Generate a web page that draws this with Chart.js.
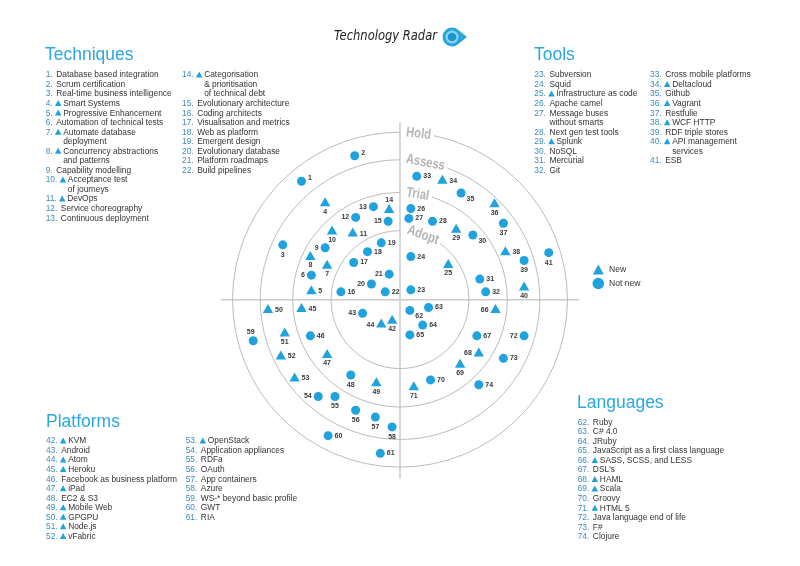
<!DOCTYPE html>
<html><head><meta charset="utf-8">
<script src="https://cdn.jsdelivr.net/npm/chart.js@4/dist/chart.umd.min.js"></script>
<style>html,body{margin:0;padding:0;background:#fff}#wrap{width:800px;height:566px}</style>
</head><body><div id="wrap"><canvas id="c" width="800" height="566"></canvas></div>
<script>
// ---------- DATA ----------
const ringNames = ['Adopt', 'Trial', 'Assess', 'Hold'];
const ringRadii = [70, 109, 142, 170];
const quadrantNames = ['Techniques', 'Tools', 'Platforms', 'Languages'];
const blipIds = Array.from({length: 74}, (_, i) => i + 1);
const blipX = [-100,-46,-119,-76,-90,-90,-74,-91,-76,-69,
  -48,-45,-27,-11,-12,-60,-47,-33,-19,-29,
  -11,-15,11,11,49,11,9,33,57,74,
  81,87,17,43,62,96,105,107,126,126,
  151,-8,-38,-19,-100,-91,-74,-50,-24,-134,
  -117,-121,-107,-83,-66,-45,-25,-8,-149,-73,
  -20,10,29,23,10,97,78,80,61,31,
  14,126,105,80];
const blipY = [121,147,56,98.5,8.5,25,34.5,43.5,53,69.5,
  67.5,84,95,91.5,80,8,38,49,58,16,
  26,8,10,44,35.5,93,83,80,71.5,66,
  21,8,126,121.5,109,97.5,78,48.5,40,12.5,
  48,-21.5,-14,-25.5,-9.5,-37,-56.5,-77,-85.5,-10.5,
  -34.5,-58,-80.5,-99,-99,-113,-120,-130,-42,-139,
  -157,-11,-8,-26,-36,-10.5,-37,-55,-66.5,-82,
  -89.5,-37,-60,-87];
const newIds = [4,5,7,8,10,11,14,25,29,34,36,38,40,42,44,45,47,49,50,51,52,53,66,68,69,71];
const techniques = ['Database based integration','Scrum certification','Real-time business intelligence','Smart Systems','Progressive Enhancement','Automation of technical tests','Automate database\ndeployment','Concurrency abstractions\nand patterns','Capability modelling','Acceptance test\nof journeys','DevOps','Service choreography','Continuous deployment','Categorisation\n& prioritisation\nof technical debt','Evolutionary architecture','Coding architects','Visualisation and metrics','Web as platform','Emergent design','Evolutionary database','Platform roadmaps','Build pipelines'];
const tools = ['Subversion','Squid','Infrastructure as code','Apache camel','Message buses\nwithout smarts','Next gen test tools','Splunk','NoSQL','Mercurial','Git','Cross mobile platforms','Deltacloud','Github','Vagrant','Restfulie','WCF HTTP','RDF triple stores','API management\nservices','ESB'];
const platforms = ['KVM','Android','Atom','Heroku','Facebook as business platform','iPad','EC2 & S3','Mobile Web','GPGPU','Node.js','vFabric','OpenStack','Application appliances','RDFa','OAuth','App containers','Azure','WS-* beyond basic profile','GWT','RIA'];
const languages = ['Ruby','C# 4.0','JRuby','JavaScript as a first class language','SASS, SCSS, and LESS',"DSL's",'HAML','Scala','Groovy','HTML 5','Java language end of life','F#','Clojure'];
const legendLabels = ['New', 'Not new'];
const titleText = 'Technology Radar';

// ---------- LAYOUT / STYLE ----------
const labelSides = ['UR','UR','B','B','R','L','B','B','L','B',
  'R','L','L','A','L','R','R','R','R','L',
  'L','R','R','R','B','R','R','R','B','BR',
  'R','R','R','R','BR','B','B','R','B','B',
  'B','B','L','L','R','R','B','B','B','R',
  'B','R','R','L','B','B','B','B','A','R',
  'R','BR','R','R','R','L','R','L','B','R',
  'B','L','R','R'];
const BLUE = '#1fa2de';
const NUMC = '#3a8db8';
const TXT = '#333333';
const HEAD = '#2aa8e0';
const LIST_FONT = '8.4px "Liberation Sans", Arial, sans-serif';
const LH = 9.55;
const ringLabelAngles = [19.6, 9.5, 10.5, 6.4];

const allNames = {};
[techniques, tools, platforms, languages].flat().forEach((n, i) => allNames[i + 1] = n);
const isNew = id => newIds.includes(id);
const range = (a, b) => Array.from({length: b - a + 1}, (_, i) => a + i);
const columns = [
  {ids: range(1, 13), x: 45.7, y: 75},
  {ids: range(14, 22), x: 182, y: 75},
  {ids: range(23, 32), x: 534.3, y: 75},
  {ids: range(33, 41), x: 650, y: 75},
  {ids: range(42, 52), x: 46, y: 441},
  {ids: range(53, 61), x: 185.7, y: 441},
  {ids: range(62, 74), x: 577.7, y: 422.3}
];
const headings = [{x: 45, y: 55}, {x: 534, y: 55}, {x: 46, y: 421.7}, {x: 577, y: 402.7}];

const newPts = [], oldPts = [];
blipIds.forEach((id, i) => (isNew(id) ? newPts : oldPts).push({x: blipX[i], y: blipY[i], id}));

function tri(ctx, x, y, w, h) {
  ctx.beginPath();
  ctx.moveTo(x, y - h * 0.6);
  ctx.lineTo(x + w / 2, y + h * 0.4);
  ctx.lineTo(x - w / 2, y + h * 0.4);
  ctx.closePath();
  ctx.fill();
}

const radarPlugin = {
  id: 'radar',
  beforeDraw(chart) {
    const ctx = chart.ctx;
    ctx.save(); ctx.fillStyle = '#fff'; ctx.fillRect(0, 0, chart.width, chart.height); ctx.restore();
  },
  beforeDatasetsDraw(chart) {
    const ctx = chart.ctx, xs = chart.scales.x, ys = chart.scales.y;
    const cx = xs.getPixelForValue(0), cy = ys.getPixelForValue(0);
    const rp = r => xs.getPixelForValue(r) - cx;
    ctx.save();
    ctx.strokeStyle = '#cccccc'; ctx.lineWidth = 1.5;
    ctx.beginPath();
    ctx.moveTo(xs.getPixelForValue(-182), cy); ctx.lineTo(xs.getPixelForValue(182), cy);
    ctx.moveTo(cx, ys.getPixelForValue(181)); ctx.lineTo(cx, ys.getPixelForValue(-183));
    ctx.stroke();
    ctx.font = 'bold 14px "Liberation Sans", Arial, sans-serif';
    ringRadii.forEach((r, i) => {
      const R = rp(r);
      const th = ringLabelAngles[i] * Math.PI / 180;
      const w = ctx.measureText(ringNames[i]).width * 0.8;
      const gapEnd = th + (w / 2 + 3) / R;
      ctx.strokeStyle = '#bdbdbd'; ctx.lineWidth = 1;
      ctx.beginPath();
      ctx.arc(cx, cy, R, -Math.PI / 2 + gapEnd, Math.PI * 1.5);
      ctx.stroke();
      ctx.save();
      ctx.translate(cx + R * Math.sin(th), cy - R * Math.cos(th));
      ctx.rotate(th);
      ctx.scale(0.8, 1);
      ctx.fillStyle = '#b4b4b4';
      ctx.textAlign = 'center'; ctx.textBaseline = 'middle';
      ctx.fillText(ringNames[i], 0, 0.5);
      ctx.restore();
    });
    ctx.restore();
  },
  afterDatasetsDraw(chart) {
    const ctx = chart.ctx, xs = chart.scales.x, ys = chart.scales.y;
    ctx.save();
    ctx.font = 'bold 7px "Liberation Sans", Arial, sans-serif';
    ctx.fillStyle = '#3a3a3a';
    ctx.textBaseline = 'middle';
    blipIds.forEach((id, i) => {
      const x = xs.getPixelForValue(blipX[i]), y = ys.getPixelForValue(blipY[i]);
      const t = isNew(id);
      const s = labelSides[i];
      const t1 = String(id);
      if (s === 'R') { ctx.textAlign = 'left'; ctx.fillText(t1, x + (t ? 7 : 6.5), y); }
      else if (s === 'UR') { ctx.textAlign = 'left'; ctx.fillText(t1, x + 6.5, y - 3); }
      else if (s === 'L') { ctx.textAlign = 'right'; ctx.fillText(t1, x - (t ? 7 : 6.5), y); }
      else if (s === 'B') { ctx.textAlign = 'center'; ctx.fillText(t1, x, y + (t ? 8.5 : 10)); }
      else if (s === 'A') { ctx.textAlign = 'center'; ctx.fillText(t1, x - (t ? 0 : 2.5), y - (t ? 10.5 : 9)); }
      else if (s === 'BR') { ctx.textAlign = 'left'; ctx.fillText(t1, x + 5.5, y + 6); }
    });
    ctx.restore();
  },
  afterDraw(chart) {
    const ctx = chart.ctx;
    ctx.save();
    ctx.textBaseline = 'middle'; ctx.textAlign = 'left';
    ctx.font = '17.5px "Liberation Sans", Arial, sans-serif';
    ctx.fillStyle = HEAD;
    quadrantNames.forEach((q, i) => ctx.fillText(q, headings[i].x, headings[i].y));
    ctx.font = LIST_FONT;
    columns.forEach(col => {
      let y = col.y;
      col.ids.forEach(id => {
        const num = id + '.';
        ctx.fillStyle = NUMC;
        ctx.fillText(num, col.x, y);
        let tx = col.x + ctx.measureText(num).width;
        if (isNew(id)) {
          ctx.fillStyle = BLUE;
          tri(ctx, tx + 5.5, y, 6.5, 6);
          tx += 10.5;
        } else tx += 3.5;
        ctx.fillStyle = TXT;
        allNames[id].split('\n').forEach(ln => { ctx.fillText(ln, tx, y); y += LH; });
      });
    });
    ctx.fillStyle = BLUE;
    tri(ctx, 598.3, 270.5, 11, 10);
    ctx.beginPath(); ctx.arc(598.3, 283.5, 5.8, 0, Math.PI * 2); ctx.fill();
    ctx.fillStyle = TXT; ctx.font = '8.6px "Liberation Sans", Arial, sans-serif';
    ctx.fillText(legendLabels[0], 609, 270);
    ctx.fillText(legendLabels[1], 609, 283.5);
    ctx.font = 'italic 14px "DejaVu Sans", sans-serif';
    ctx.fillStyle = '#222';
    ctx.save();
    ctx.translate(334, 36.5);
    const tw = ctx.measureText(titleText).width;
    ctx.scale(103 / tw, 1);
    ctx.fillText(titleText, 0, 0);
    ctx.restore();
    ctx.fillStyle = '#2aa6df';
    ctx.beginPath();
    ctx.arc(452, 37, 9.5, Math.PI * 0.28, Math.PI * 1.72);
    ctx.lineTo(467, 37);
    ctx.closePath(); ctx.fill();
    ctx.fillStyle = '#8fd4f2';
    ctx.beginPath(); ctx.arc(452, 37, 6.5, 0, Math.PI * 2); ctx.fill();
    ctx.fillStyle = '#1b95d6';
    ctx.beginPath(); ctx.arc(452, 37, 4.3, 0, Math.PI * 2); ctx.fill();
    ctx.restore();
  }
};

new Chart(document.getElementById('c'), {
  type: 'scatter',
  data: {
    datasets: [
      {label: legendLabels[0], data: newPts, pointStyle: 'triangle', pointRadius: 6, backgroundColor: BLUE, borderWidth: 0},
      {label: legendLabels[1], data: oldPts, pointStyle: 'circle', pointRadius: 4.5, backgroundColor: BLUE, borderWidth: 0}
    ]
  },
  options: {
    responsive: false,
    animation: false,
    events: [],
    layout: {padding: 0},
    plugins: {legend: {display: false}, tooltip: {enabled: false}, title: {display: false}},
    scales: {
      x: {type: 'linear', min: -400, max: 400, display: false},
      y: {type: 'linear', min: -266, max: 300, display: false}
    }
  },
  plugins: [radarPlugin]
});
</script>
</body></html>
